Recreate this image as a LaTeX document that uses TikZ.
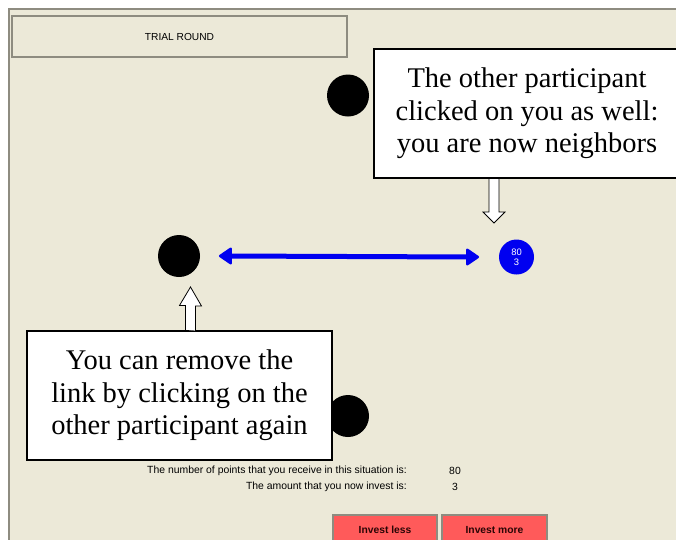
\documentclass[tikz,border=0pt]{standalone}
\usepackage{fontspec}
\setmainfont{Liberation Serif}
\newfontfamily\uifont{Liberation Sans}
\definecolor{panel}{HTML}{ECE9D8}
\definecolor{frameline}{HTML}{8E8C80}
\definecolor{btnred}{HTML}{FF5A5A}
\definecolor{btntext}{HTML}{2A0505}
\definecolor{linkblue}{HTML}{0000F0}
\tikzset{
  player/.style={circle, fill=black, inner sep=0pt, minimum size=42pt},
  me/.style={circle, fill=linkblue, inner sep=0pt, minimum size=35pt, text=white,
    font=\uifont\fontsize{9.4}{10}\selectfont, align=center},
  callout/.style={draw=black, line width=1.1pt, fill=white, align=center,
    font=\fontsize{28.5}{32.5}\selectfont},
  hollow/.style={draw=black, line width=0.8pt, fill=white, line join=miter},
  uitext/.style={font=\uifont\fontsize{10.4}{12}\selectfont, inner sep=0pt},
  button/.style={draw=frameline, line width=1.2pt, fill=btnred, text=btntext,
    font=\uifont\bfseries\fontsize{10.3}{12}\selectfont},
  link/.style={draw=linkblue, line width=5pt},
  linkhead/.style={draw=linkblue, fill=linkblue, line width=2.5pt, line join=round},
}
\begin{document}
\begin{tikzpicture}[x=1pt, y=-1pt]
\useasboundingbox (0,0) rectangle (676,539);
\begin{scope}
\clip (0,0) rectangle (676,539);
% window background and frame
\fill[white] (0,0) rectangle (676,539);
\fill[panel] (9,9) rectangle (680,545);
\draw[frameline, line width=1.6pt] (8.8,545) -- (8.8,8.8) -- (680,8.8);

% title bar
\node[draw=frameline, line width=1.2pt, fill=panel, minimum width=335pt, minimum height=41pt,
  font=\uifont\fontsize{10.2}{12}\selectfont] (title) at (179.5,36.5) {TRIAL ROUND};

% participants
\node[player] (pTop) at (348,95.5) {};
\node[player] (pLeft) at (179,256) {};
\node[player] (pBot) at (348,416) {};
\node[me] (self) at (516.5,257) {80\\3};

% established link: a thick two-headed arrow
\coordinate (linkL) at ([xshift=20pt]pLeft.east);
\coordinate (linkR) at ([xshift=-21pt]self.west);
\draw[link] ([xshift=8pt]linkL) -- ([xshift=-8pt]linkR);
\draw[linkhead] (linkL) -- ++(10.5,-7.2) -- ++(0,14.4) -- cycle;
\draw[linkhead] (linkR) -- ++(-10.5,-7.2) -- ++(0,14.4) -- cycle;

% explanation boxes
\node[callout, minimum width=306pt, minimum height=129pt] (callA) at (527,113.5)
  {The other participant\\clicked on you as well:\\you are now neighbors};
\node[callout, minimum width=305pt, minimum height=129pt] (callB) at (179.5,395.5)
  {You can remove the\\link by clicking on the\\other participant again};

% hollow pointer arrows
\coordinate (tipA) at (494,223);
\coordinate (tailA) at (callA.south -| tipA);
\draw[hollow] (tailA) ++(-5,0) -- ++(0,33.5) -- ++(-6,0) -- (tipA) -- ++(11,-11)
  -- ++(-6,0) -- ++(0,-33.5) -- cycle;
\coordinate (tipB) at (190.5,287);
\coordinate (tailB) at (callB.north -| tipB);
\draw[hollow] (tailB) ++(-5,0) -- ++(0,-25) -- ++(-6,0) -- (tipB) -- ++(11,19)
  -- ++(-6,0) -- ++(0,25) -- cycle;

% score lines
\node[uitext, anchor=east] (lblPts) at (407,471) {The number of points that you receive in this situation is:};
\node[uitext] (valPts) at (455,471) {80};
\node[uitext, anchor=east] (lblInv) at (407,486.5) {The amount that you now invest is:};
\node[uitext] (valInv) at (455,486.5) {3};

% buttons
\node[button, minimum width=104pt, minimum height=30pt] (less) at (385,530) {Invest less};
\node[button, minimum width=105pt, minimum height=30pt] (more) at (494.5,530) {Invest more};
\end{scope}
\end{tikzpicture}
\end{document}
